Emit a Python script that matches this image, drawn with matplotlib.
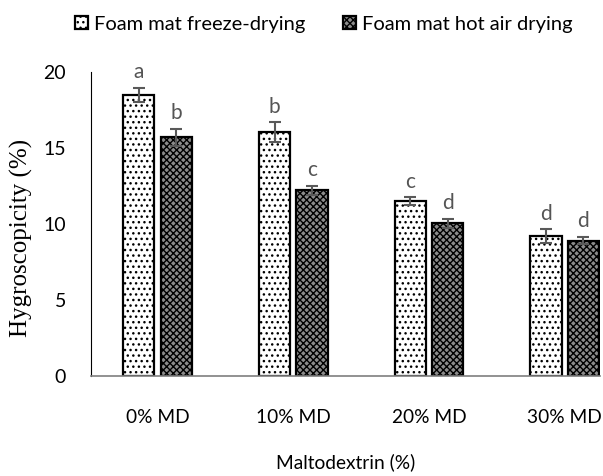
import matplotlib
matplotlib.use("Agg")
import matplotlib.pyplot as plt
import numpy as np

categories = ["0% MD", "10% MD", "20% MD", "30% MD"]
series_names = ["Foam mat freeze-drying", "Foam mat hot air drying"]
freeze_vals = [18.5, 16.05, 11.5, 9.2]
freeze_err = [0.45, 0.65, 0.25, 0.45]
freeze_letters = ["a", "b", "c", "d"]
hot_vals = [15.7, 12.2, 10.05, 8.9]
hot_err = [0.55, 0.3, 0.3, 0.25]
hot_letters = ["b", "c", "d", "d"]
yticks = [0, 5, 10, 15, 20]

plt.rcParams['hatch.linewidth'] = 1.0

fig = plt.figure(figsize=(6.03, 4.76), dpi=100)
ax = fig.add_axes([0.151, 0.210, 0.844, 0.639])

x = np.arange(len(categories))
w = 0.23
off = 0.138
sans = "Lato"

b1 = ax.bar(x - off, freeze_vals, w, facecolor="white", edgecolor="black",
            hatch="...", linewidth=1.6, label=series_names[0], zorder=2)
b2 = ax.bar(x + off, hot_vals, w, facecolor="#8c8c8c", edgecolor="black",
            hatch="xxxxx", linewidth=1.6, label=series_names[1], zorder=2)

ax.errorbar(x - off, freeze_vals, yerr=freeze_err, fmt="none", ecolor="#595959",
            elinewidth=1.5, capsize=4.5, capthick=1.5, zorder=3)
ax.errorbar(x + off, hot_vals, yerr=hot_err, fmt="none", ecolor="#595959",
            elinewidth=1.5, capsize=4.5, capthick=1.5, zorder=3)

for xi, v, e, t in zip(x - off, freeze_vals, freeze_err, freeze_letters):
    ax.annotate(t, (xi, v + e), xytext=(0, 4), textcoords="offset points",
                ha="center", va="bottom", fontsize=15, color="#555555", family=sans)
for xi, v, e, t in zip(x + off, hot_vals, hot_err, hot_letters):
    ax.annotate(t, (xi, v + e), xytext=(0, 4), textcoords="offset points",
                ha="center", va="bottom", fontsize=15, color="#555555", family=sans)

ax.set_xlim(-0.49, 3.26)
ax.set_ylim(0, 20)
ax.set_yticks(yticks)
ax.set_yticklabels([str(t) for t in yticks], family=sans, fontsize=14)
ax.set_xticks(x)
ax.set_xticklabels(categories, family=sans, fontsize=13.8)
ax.tick_params(axis="both", length=0)
ax.tick_params(axis="x", pad=24)
ax.tick_params(axis="y", pad=18)

ax.spines["top"].set_visible(False)
ax.spines["right"].set_visible(False)
ax.spines["left"].set_color("black")
ax.spines["bottom"].set_color("#7f7f7f")
ax.spines["bottom"].set_linewidth(1.2)

ax.set_xlabel("Maltodextrin (%)", family=sans, fontsize=13.8)
ax.xaxis.set_label_coords(0.5, -0.255)
ax.set_ylabel("Hygroscopicity (%)", family="Liberation Serif", fontsize=18)
ax.yaxis.set_label_coords(-0.114, 0.454)

leg = fig.legend(handles=[b1, b2], labels=series_names, loc="upper center",
                 bbox_to_anchor=(0.537, 1.005), ncol=2, frameon=False,
                 prop={"family": sans, "size": 14.5}, handlelength=0.65,
                 handleheight=0.65, handletextpad=0.3, columnspacing=1.9)

fig.savefig("out.png", dpi=100)
